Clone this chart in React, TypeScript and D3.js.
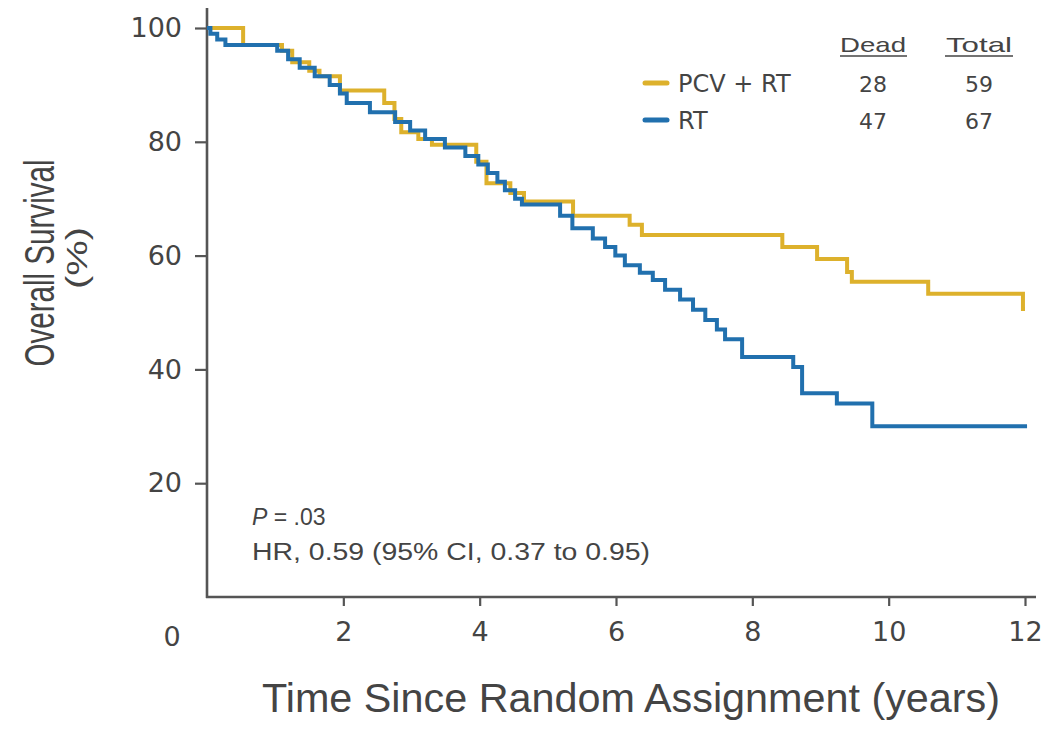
import React, { useEffect, useRef } from "react";
import * as d3 from "d3";

// ---- data ----
const pcvTimes = [0, 0.53, 1.1, 1.25, 1.5, 1.65, 1.95, 2.6, 2.75, 2.85, 3.1, 3.3, 3.95, 4.1, 4.45, 4.65, 5.37, 6.2, 6.38, 8.44, 8.95, 9.39, 9.46, 10.58, 11.97, 12.0];
const pcvSurv = [100, 97, 96, 94, 92.5, 91.5, 89, 86.8, 84, 81.7, 80.5, 79.5, 76.5, 72.7, 71, 69.5, 67, 65.4, 63.6, 61.5, 59.4, 57.1, 55.4, 53.3, 50.6, 50.6];

const rtTimes = [0, 0.05, 0.15, 0.27, 1.03, 1.19, 1.36, 1.58, 1.8, 1.95, 2.05, 2.39, 2.76, 2.98, 3.2, 3.49, 3.79, 3.98, 4.12, 4.26, 4.37, 4.52, 4.62, 5.18, 5.36, 5.66, 5.84, 5.99, 6.13, 6.35, 6.54, 6.72, 6.94, 7.13, 7.31, 7.48, 7.6, 7.85, 8.6, 8.73, 9.24, 9.76, 12.03];
const rtSurv = [100, 99, 98, 97, 96, 94.5, 93, 91.5, 90, 88.5, 86.8, 85.2, 83.5, 82, 80.5, 79, 77.5, 76, 74.5, 73, 71.5, 70, 69, 67, 64.8, 63, 61.5, 60, 58.3, 57, 55.7, 54, 52.3, 50.5, 48.7, 47, 45.3, 42.2, 40.4, 35.8, 34, 30, 30];

const yTicks = [20, 40, 60, 80, 100];
const xTicks = [2, 4, 6, 8, 10, 12];
const originLabel = "0";

const seriesNames = ["PCV + RT", "RT"];
const deadCounts = [28, 47];
const totalCounts = [59, 67];
const seriesColors = ["#DDB12C", "#2170AE"];

const yTitle = "Overall Survival";
const yTitleSub = "(%)";
const xTitle = "Time Since Random Assignment (years)";
const pText = "= .03";
const hrText = "HR, 0.59 (95% CI, 0.37 to 0.95)";

const W = 1051;
const H = 729;

export default function App() {
  const axRef = useRef<SVGGElement>(null);

  const x = d3.scaleLinear().domain([0, 12]).range([207, 1025]);
  const y = d3.scaleLinear().domain([0, 100]).range([597, 28]);

  useEffect(() => {
    const g = d3.select(axRef.current);
    g.selectAll("*").remove();
    const yAx = g.append("g").attr("transform", `translate(${x(0)},0)`)
      .call(d3.axisLeft(y).tickValues(yTicks).tickSize(12).tickPadding(13).tickFormat(d3.format("d")));
    yAx.select(".domain").remove();
    const xAx = g.append("g").attr("transform", `translate(0,${y(0)})`)
      .call(d3.axisBottom(x).tickValues(xTicks).tickSize(9).tickPadding(16).tickFormat(d3.format("d")));
    xAx.select(".domain").remove();
    g.selectAll(".tick line").attr("stroke", "#555").attr("stroke-width", 2.2);
    g.selectAll(".tick text")
      .attr("fill", "#444")
      .attr("font-size", 27)
      .attr("font-family", "'DejaVu Sans', sans-serif");
  }, []);

  const makePath = (ts: number[], ss: number[]) =>
    d3.line<[number, number]>()
      .x((d) => x(d[0]))
      .y((d) => y(d[1]))
      .curve(d3.curveStepAfter)(ts.map((t, i) => [t, ss[i]] as [number, number])) || "";

  const legendX = 645;
  const rowY = [83, 120];
  const colDead = 873;
  const colTotal = 979;

  return (
    <svg width={W} height={H} style={{ position: "absolute", left: 0, top: 0, background: "#fff" }}
      fontFamily="'Liberation Sans', Arial, sans-serif">
      <rect x={0} y={0} width={W} height={H} fill="#fff" />
      {/* axis lines */}
      <line x1={x(0)} x2={x(0)} y1={8} y2={y(0) + 1} stroke="#555" strokeWidth={2.6} />
      <line x1={x(0) - 1} x2={1036} y1={y(0)} y2={y(0)} stroke="#555" strokeWidth={2.6} />
      <g ref={axRef} />
      <text x={172} y={646} textAnchor="middle" fontSize={27} fill="#444" fontFamily="'DejaVu Sans', sans-serif">{originLabel}</text>

      {/* curves */}
      <path d={makePath(pcvTimes, pcvSurv)} fill="none" stroke={seriesColors[0]} strokeWidth={4} />
      <path d={makePath(rtTimes, rtSurv)} fill="none" stroke={seriesColors[1]} strokeWidth={4} />

      {/* legend */}
      <text x={colDead} y={52} textAnchor="middle" fontSize={21} fill="#444" textLength={66} lengthAdjust="spacingAndGlyphs">Dead</text>
      <line x1={840} x2={907} y1={56} y2={56} stroke="#444" strokeWidth={1.5} />
      <text x={colTotal} y={52} textAnchor="middle" fontSize={21} fill="#444" textLength={66} lengthAdjust="spacingAndGlyphs">Total</text>
      <line x1={945} x2={1013} y1={56} y2={56} stroke="#444" strokeWidth={1.5} />
      {seriesNames.map((n, i) => (
        <g key={n}>
          <line x1={legendX} x2={legendX + 22} y1={rowY[i]} y2={rowY[i]} stroke={seriesColors[i]} strokeWidth={5} strokeLinecap="round" />
          <text x={678} y={rowY[i] + 9} fontSize={24} fill="#444" fontFamily="'DejaVu Sans', sans-serif">{n}</text>
          <text x={colDead} y={rowY[i] + 9} textAnchor="middle" fontSize={22} fill="#444" fontFamily="'DejaVu Sans', sans-serif">{deadCounts[i]}</text>
          <text x={colTotal} y={rowY[i] + 9} textAnchor="middle" fontSize={22} fill="#444" fontFamily="'DejaVu Sans', sans-serif">{totalCounts[i]}</text>
        </g>
      ))}

      {/* annotation */}
      <text x={252} y={525} fontSize={23} fill="#444">
        <tspan fontStyle="italic">P</tspan>
        <tspan> {pText}</tspan>
      </text>
      <text x={252} y={560} fontSize={23} fill="#444" textLength={398} lengthAdjust="spacingAndGlyphs">{hrText}</text>

      {/* axis titles */}
      <text transform={`translate(54,263) rotate(-90)`} textAnchor="middle" fontSize={42} fill="#444" textLength={207} lengthAdjust="spacingAndGlyphs">{yTitle}</text>
      <text transform={`translate(87,258) rotate(-90)`} textAnchor="middle" fontSize={30} fill="#444" textLength={62} lengthAdjust="spacingAndGlyphs">{yTitleSub}</text>
      <text x={631} y={712} textAnchor="middle" fontSize={40} fill="#444" textLength={738} lengthAdjust="spacingAndGlyphs">{xTitle}</text>
    </svg>
  );
}
